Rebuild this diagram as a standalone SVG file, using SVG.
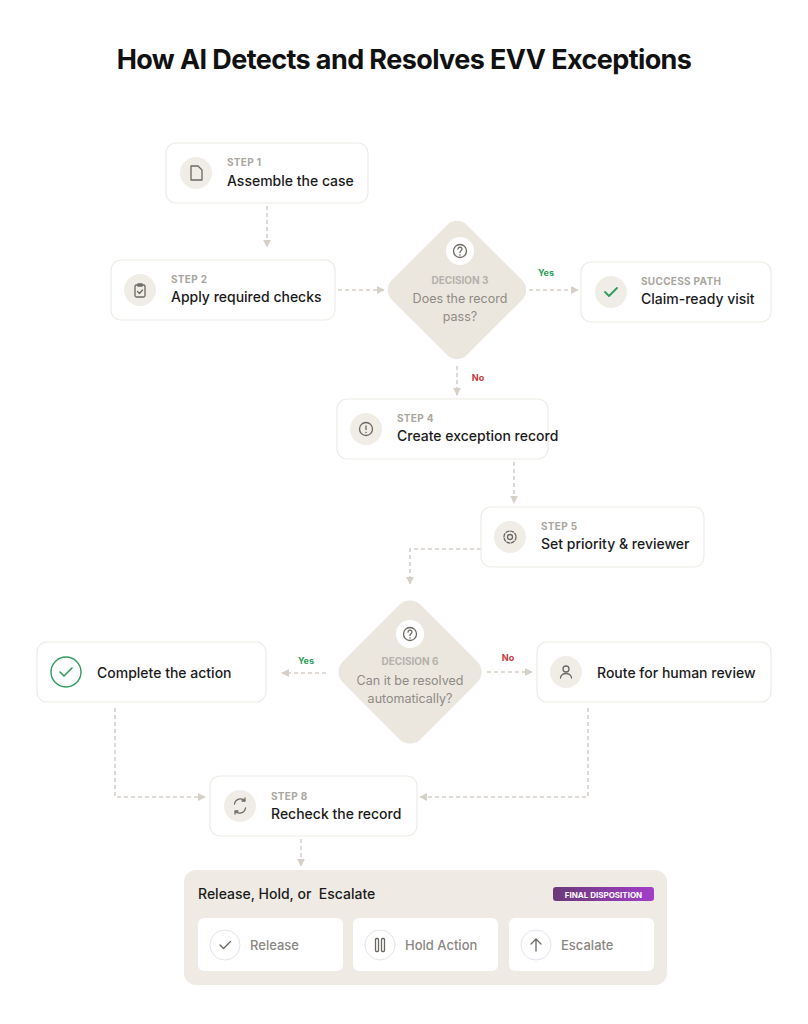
<svg xmlns="http://www.w3.org/2000/svg" width="808" height="1024" viewBox="0 0 808 1024">
<defs>
<style>
text{font-family:Inter,"Liberation Sans",sans-serif}
.card{fill:#fff;stroke:#eeebe5;stroke-width:1.2}
.ic{fill:#f0ede6}
.lbl{font-size:10px;font-weight:700;fill:#a9a6a0;letter-spacing:.3px}
.ttl{font-size:14px;font-weight:500;fill:#1b1b1b}
.dia{fill:#ebe7df}
.dl{font-size:10px;font-weight:700;fill:#b5b1aa}
.dt{font-size:12.5px;fill:#8e8a84}
.con{fill:none;stroke:#d6d1c8;stroke-width:1.6;stroke-dasharray:4 3}
.gl{fill:none;stroke:#6b6863;stroke-width:1.3;stroke-linecap:round;stroke-linejoin:round}
.opt{fill:#fff}
.ot{font-size:13px;font-weight:500;fill:#8a8782}
.oc{fill:#fff;stroke:#e3e4ec;stroke-width:1}
</style>
<marker id="ar" viewBox="0 0 10 10" refX="9" refY="5" markerWidth="8" markerHeight="8" orient="auto-start-reverse" markerUnits="userSpaceOnUse"><path d="M0,0L10,5L0,10z" fill="#d6d1c8"/></marker>
<linearGradient id="bg" x1="0" x2="1"><stop offset="0" stop-color="#6b3a78"/><stop offset="1" stop-color="#a23ec8"/></linearGradient>
</defs>
<rect width="808" height="1024" fill="#fff"/>
<text x="404" y="69" text-anchor="middle" font-size="27" font-weight="700" fill="#111" letter-spacing="-0.6">How AI Detects and Resolves EVV Exceptions</text>

<g id="connectors">
<path class="con" d="M267,206V247" marker-end="url(#ar)"/>
<path class="con" d="M338,290H384" marker-end="url(#ar)"/>
<path class="con" d="M529,290H578" marker-end="url(#ar)"/>
<text x="546" y="276" text-anchor="middle" font-size="9" font-weight="700" fill="#2e9a5c">Yes</text>
<path class="con" d="M457,366V395" marker-end="url(#ar)"/>
<text x="478" y="381" text-anchor="middle" font-size="9" font-weight="700" fill="#c43a3a">No</text>
<path class="con" d="M514,462V503" marker-end="url(#ar)"/>
<path class="con" d="M481,549H410V584" marker-end="url(#ar)"/>
<path class="con" d="M326,673H282" marker-end="url(#ar)"/>
<text x="306" y="664" text-anchor="middle" font-size="9" font-weight="700" fill="#2e9a5c">Yes</text>
<path class="con" d="M487,672H532" marker-end="url(#ar)"/>
<text x="508" y="661" text-anchor="middle" font-size="9" font-weight="700" fill="#c43a3a">No</text>
<path class="con" d="M115,708V797H205" marker-end="url(#ar)"/>
<path class="con" d="M588,708V797H420" marker-end="url(#ar)"/>
<path class="con" d="M301,839V866" marker-end="url(#ar)"/>
</g>

<g id="step1">
<rect class="card" x="166" y="143" width="202" height="60" rx="10"/>
<circle class="ic" cx="196" cy="173" r="16"/>
<path class="gl" d="M191,166h7l4,4v10h-11z"/>
<text class="lbl" x="227" y="166">STEP 1</text>
<text class="ttl" x="227" y="186">Assemble the case</text>
</g>

<g id="step2">
<rect class="card" x="111" y="260" width="224" height="60" rx="10"/>
<circle class="ic" cx="140" cy="290" r="16"/>
<rect class="gl" x="135" y="285" width="10" height="12" rx="1.5"/>
<path class="gl" d="M138,284h4v2h-4z M137.5,291.5l2,2l3,-3.5"/>
<text class="lbl" x="171" y="283">STEP 2</text>
<text class="ttl" x="171" y="302">Apply required checks</text>
</g>

<g id="decision3">
<rect class="dia" x="404" y="237" width="106" height="106" rx="14" transform="rotate(45 457 290)"/>
<circle cx="460" cy="251" r="14" fill="#fff"/>
<circle class="gl" cx="460" cy="251" r="6.5"/>
<path class="gl" d="M458,249a2,2 0 1 1 3,1.8c-.8.5-1,1-1,1.7"/><circle cx="460" cy="255" r=".8" fill="#6b6863"/>
<text class="dl" x="460" y="284" text-anchor="middle">DECISION 3</text>
<text class="dt" x="460" y="303" text-anchor="middle">Does the record</text>
<text class="dt" x="460" y="321" text-anchor="middle">pass?</text>
</g>

<g id="success">
<rect class="card" x="581" y="262" width="190" height="60" rx="10"/>
<circle class="ic" cx="611" cy="292" r="16"/>
<path d="M605,292l4,4l8,-8" fill="none" stroke="#2e9a5c" stroke-width="1.8" stroke-linecap="round" stroke-linejoin="round"/>
<text class="lbl" x="641" y="285">SUCCESS PATH</text>
<text class="ttl" x="641" y="304">Claim-ready visit</text>
</g>

<g id="step4">
<rect class="card" x="337" y="399" width="211" height="60" rx="10"/>
<circle class="ic" cx="366" cy="429" r="16"/>
<circle class="gl" cx="366" cy="429" r="6.5"/>
<path class="gl" d="M366,426v3.5"/><circle cx="366" cy="432.5" r=".8" fill="#6b6863"/>
<text class="lbl" x="397" y="422">STEP 4</text>
<text class="ttl" x="397" y="441">Create exception record</text>
</g>

<g id="step5">
<rect class="card" x="481" y="507" width="223" height="60" rx="10"/>
<circle class="ic" cx="510" cy="537" r="16"/>
<circle class="gl" cx="510" cy="537" r="2.5"/>
<circle class="gl" cx="510" cy="537" r="6" stroke-dasharray="3 1.7"/>
<text class="lbl" x="541" y="530">STEP 5</text>
<text class="ttl" x="541" y="549">Set priority &amp; reviewer</text>
</g>

<g id="decision6">
<rect class="dia" x="355" y="617" width="110" height="110" rx="15" transform="rotate(45 410 672)"/>
<circle cx="410" cy="634" r="14" fill="#fff"/>
<circle class="gl" cx="410" cy="634" r="6.5"/>
<path class="gl" d="M408,632a2,2 0 1 1 3,1.8c-.8.5-1,1-1,1.7"/><circle cx="410" cy="638" r=".8" fill="#6b6863"/>
<text class="dl" x="410" y="665" text-anchor="middle">DECISION 6</text>
<text class="dt" x="410" y="685" text-anchor="middle">Can it be resolved</text>
<text class="dt" x="410" y="703" text-anchor="middle">automatically?</text>
</g>

<g id="complete">
<rect class="card" x="37" y="642" width="229" height="60" rx="10"/>
<circle cx="66" cy="672" r="15" fill="#fff" stroke="#2e9a5c" stroke-width="1.4"/>
<path d="M60,672l4,4l8,-8" fill="none" stroke="#2e9a5c" stroke-width="1.6" stroke-linecap="round" stroke-linejoin="round"/>
<text class="ttl" x="97" y="678">Complete the action</text>
</g>

<g id="route">
<rect class="card" x="537" y="642" width="234" height="60" rx="10"/>
<circle class="ic" cx="566" cy="672" r="16"/>
<circle class="gl" cx="566" cy="669" r="3"/>
<path class="gl" d="M560.5,678a5.5,4.5 0 0 1 11,0"/>
<text class="ttl" x="597" y="678">Route for human review</text>
</g>

<g id="step8">
<rect class="card" x="210" y="776" width="207" height="60" rx="10"/>
<circle class="ic" cx="240" cy="806" r="16"/>
<path class="gl" d="M234.5,804a6,6 0 0 1 10.5,-3M245.5,808a6,6 0 0 1 -10.5,3M245,798v3h-3M235,814v-3h3"/>
<text class="lbl" x="271" y="800">STEP 8</text>
<text class="ttl" x="271" y="819">Recheck the record</text>
</g>

<g id="final">
<rect x="184" y="870" width="483" height="115" rx="12" fill="#efebe4"/>
<text x="198" y="899" font-size="14" font-weight="500" fill="#1b1b1b" xml:space="preserve">Release, Hold, or  Escalate</text>
<rect x="553" y="887" width="101" height="14" rx="3" fill="url(#bg)"/>
<text x="603.5" y="897.5" text-anchor="middle" font-size="8" font-weight="700" fill="#fff">FINAL DISPOSITION</text>
<g id="release">
<rect class="opt" x="198" y="918" width="145" height="53" rx="6"/>
<circle class="oc" cx="225" cy="945" r="15"/>
<path class="gl" d="M220,945l3.5,3.5l7,-7"/>
<text class="ot" x="250" y="949.5">Release</text>
</g>
<g id="hold">
<rect class="opt" x="353" y="918" width="145" height="53" rx="6"/>
<circle class="oc" cx="380" cy="945" r="15"/>
<rect class="gl" x="375.5" y="938.5" width="3" height="13" rx="1"/>
<rect class="gl" x="381.5" y="938.5" width="3" height="13" rx="1"/>
<text class="ot" x="405" y="949.5">Hold Action</text>
</g>
<g id="escalate">
<rect class="opt" x="509" y="918" width="145" height="53" rx="6"/>
<circle class="oc" cx="536" cy="945" r="15"/>
<path class="gl" d="M536,951v-12M531,944l5,-5l5,5"/>
<text class="ot" x="561" y="949.5">Escalate</text>
</g>
</g>
</svg>
